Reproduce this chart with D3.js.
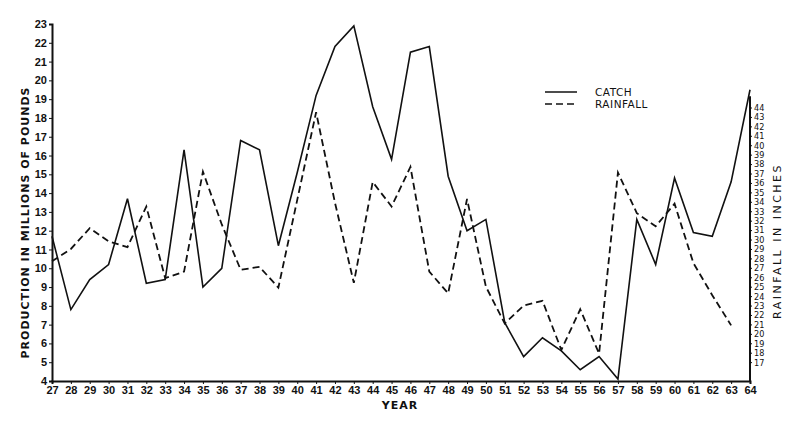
<!DOCTYPE html>
<html>
<head>
<meta charset="utf-8">
<script src="https://cdn.jsdelivr.net/npm/d3@7.9.0/dist/d3.min.js"></script>
<style>
  body { margin: 0; background: #fff; }
  svg { display: block; font-family: "DejaVu Sans", sans-serif; }
  .axis text { font-size: 11px; font-weight: bold; fill: #111; }
  .raxis text { font-family: "DejaVu Sans Condensed", "DejaVu Sans", sans-serif; font-size: 9px; font-weight: normal; }
  .title { font-size: 11px; font-weight: bold; fill: #111; letter-spacing: 1px; }
</style>
</head>
<body>
<div id="chart"></div>
<script>
// years 1927..1964
const years = d3.range(27, 65);

// catch, millions of pounds (left axis)
const catchValues = [11.7, 7.8, 9.4, 10.2, 13.7, 9.2, 9.4, 16.3, 9.0, 10.0,
  16.8, 16.3, 11.2, 15.1, 19.2, 21.8, 22.9, 18.6, 15.8, 21.5,
  21.8, 14.9, 12.0, 12.6, 7.1, 5.3, 6.3, 5.6, 4.6, 5.3,
  4.1, 12.6, 10.2, 14.8, 11.9, 11.7, 14.6, 19.5];

// rainfall, inches (right axis), 1927..1963
const rainValues = [27.7, 29.0, 31.2, 29.8, 29.2, 33.5, 25.9, 26.6, 37.2, 31.6,
  26.8, 27.1, 24.9, 34.2, 43.5, 33.9, 25.4, 36.1, 33.5, 37.7,
  26.6, 24.3, 34.3, 25.0, 21.1, 23.0, 23.5, 18.3, 22.6, 17.9,
  37.1, 32.8, 31.4, 33.8, 27.5, 24.1, 20.9];

const leftTicks = d3.range(4, 24);
const rightTicks = d3.range(17, 45);
const legendItems = [
  { label: 'CATCH', dash: null },
  { label: 'RAINFALL', dash: '7,4' }
];

const width = 800;
const height = 423;
const svg = d3.select('#chart').append('svg')
  .attr('width', width).attr('height', height);

const x = d3.scaleLinear().domain([27, 64]).range([52, 750]);
const yL = d3.scaleLinear().domain([4, 23]).range([381, 24]);
const yR = d3.scaleLinear().domain([15, 44]).range([381, 107.5]);

// axes
svg.append('g').attr('class', 'axis')
  .attr('transform', `translate(0,${yL(4)})`)
  .call(d3.axisBottom(x).tickValues(years).tickSize(3).tickPadding(2).tickFormat(d3.format('d')));

svg.append('g').attr('class', 'axis')
  .attr('transform', `translate(${x(27)},0)`)
  .call(d3.axisLeft(yL).tickValues(leftTicks).tickSize(3).tickPadding(2));

const rightAxis = svg.append('g').attr('class', 'axis raxis')
  .attr('transform', `translate(${x(64)},0)`)
  .call(d3.axisRight(yR).tickValues(rightTicks).tickSize(2).tickPadding(2));

svg.selectAll('.axis .domain').attr('stroke', '#111').attr('stroke-width', 2);
svg.selectAll('.axis .tick line').attr('stroke', '#111');
rightAxis.select('.domain').attr('d', `M0,${yR(15)}V${yR(45.2)}`);

// lines
const catchLine = d3.line()
  .x((d, i) => x(years[i]))
  .y(d => yL(d));
svg.append('path')
  .datum(catchValues)
  .attr('d', catchLine)
  .attr('fill', 'none')
  .attr('stroke', '#111')
  .attr('stroke-width', 1.6);

const rainLine = d3.line()
  .x((d, i) => x(years[i]))
  .y(d => yR(d));
svg.append('path')
  .datum(rainValues)
  .attr('d', rainLine)
  .attr('fill', 'none')
  .attr('stroke', '#111')
  .attr('stroke-width', 1.8)
  .attr('stroke-dasharray', '7,4');

// axis titles
svg.append('text').attr('class', 'title')
  .attr('transform', `translate(29,${(yL(4) + yL(23)) / 2 + 20}) rotate(-90)`)
  .attr('text-anchor', 'middle')
  .text('PRODUCTION IN MILLIONS OF POUNDS');

svg.append('text').attr('class', 'title')
  .attr('transform', `translate(781,241) rotate(-90)`)
  .attr('text-anchor', 'middle')
  .style('letter-spacing', '2.5px')
  .style('font-weight', 'normal')
  .text('RAINFALL IN INCHES');

svg.append('text').attr('class', 'title')
  .attr('x', 400).attr('y', 409)
  .attr('text-anchor', 'middle')
  .text('YEAR');

// legend
const legend = svg.append('g').attr('transform', 'translate(545,92)');
legendItems.forEach((item, i) => {
  const g = legend.append('g').attr('transform', `translate(0,${i * 12})`);
  g.append('line')
    .attr('x1', 0).attr('x2', 32).attr('y1', 0).attr('y2', 0)
    .attr('stroke', '#111').attr('stroke-width', 1.5)
    .attr('stroke-dasharray', item.dash);
  g.append('text')
    .attr('x', 50).attr('y', 4)
    .style('font-size', '10.5px')
    .style('letter-spacing', '0.5px')
    .attr('fill', '#111')
    .text(item.label);
});
</script>
</body>
</html>
